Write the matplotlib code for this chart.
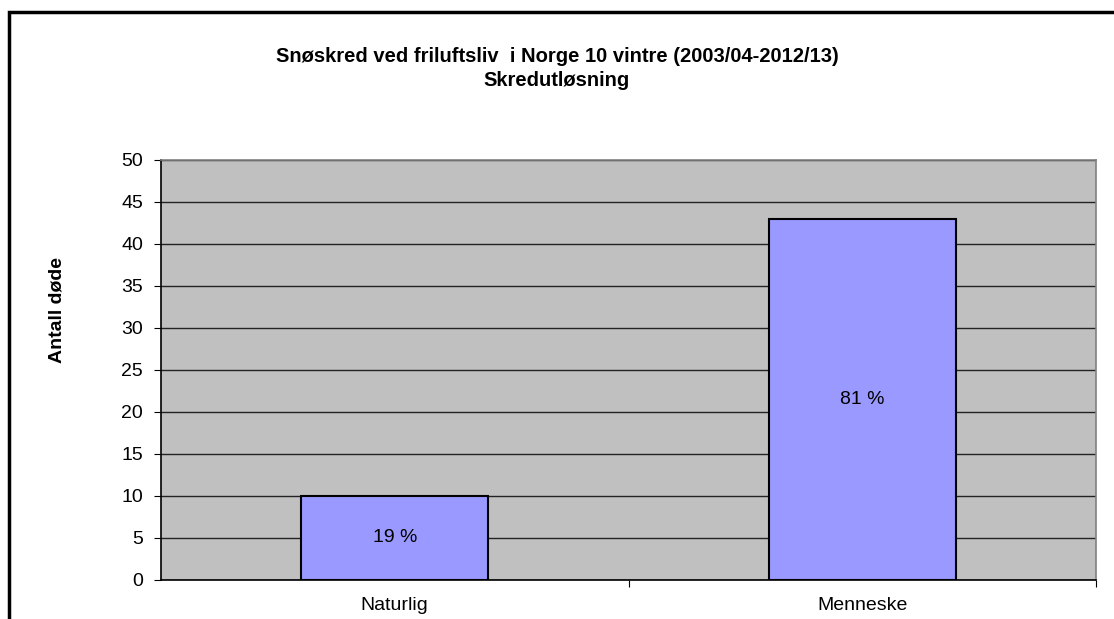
import matplotlib.pyplot as plt
from matplotlib.patches import Rectangle

# Data
categories = ['Naturlig', 'Menneske']
deaths = [10, 43]
share_labels = ['19 %', '81 %']
y_ticks = [0, 5, 10, 15, 20, 25, 30, 35, 40, 45, 50]

plt.rcParams['font.family'] = ['Liberation Sans', 'DejaVu Sans']

fig = plt.figure(figsize=(11.14, 6.19), dpi=100)
ax = fig.add_axes([161 / 1114, 1 - 580 / 619, 935 / 1114, 420 / 619])

# Outer chart frame (only top and left visible in the reference)
fig.patches.append(Rectangle((9 / 1114, -0.1), 1.2, 1 - 12 / 619 + 0.1,
                             transform=fig.transFigure, fill=False,
                             edgecolor='black', linewidth=2.5))

x = range(len(categories))
ax.set_facecolor('#C0C0C0')
ax.bar(x, deaths, width=0.4, color='#9999FF', edgecolor='black',
       linewidth=1.5, zorder=3)
for i, (v, lab) in enumerate(zip(deaths, share_labels)):
    ax.text(i, v / 2, lab, ha='center', va='center', fontsize=14, zorder=4)

ax.set_xlim(-0.5, 1.5)
ax.set_ylim(0, 50)
ax.set_yticks(y_ticks)
ax.yaxis.grid(True, color='#222222', linewidth=1)
ax.set_axisbelow(True)
ax.tick_params(axis='y', labelsize=14, length=5, direction='out', pad=8)

# Category labels without ticks, separator ticks between categories
ax.set_xticks([0.5, 1.5], minor=False)
ax.set_xticklabels([])
ax.tick_params(axis='x', length=5, direction='out')
ax.set_xticks(list(x), minor=True)
ax.set_xticklabels(categories, minor=True)
ax.tick_params(axis='x', which='minor', length=0, labelsize=14, pad=12)

ax.spines['left'].set_color('black')
ax.spines['bottom'].set_color('black')
ax.spines['top'].set_color('#808080')
ax.spines['right'].set_color('#808080')
for s in ax.spines.values():
    s.set_linewidth(1.2)

# Y axis title
fig.text(57.5 / 1114, 1 - 310 / 619, 'Antall døde', rotation=90,
         ha='center', va='center', fontsize=14, fontweight='bold')

fig.text(557 / 1114, 1 - 57 / 619, 'Snøskred ved friluftsliv  i Norge 10 vintre (2003/04-2012/13)',
         ha='center', va='center', fontsize=14.5, fontweight='bold')
fig.text(557 / 1114, 1 - 80 / 619, 'Skredutløsning',
         ha='center', va='center', fontsize=14.5, fontweight='bold')

fig.savefig('out.png', dpi=100)
